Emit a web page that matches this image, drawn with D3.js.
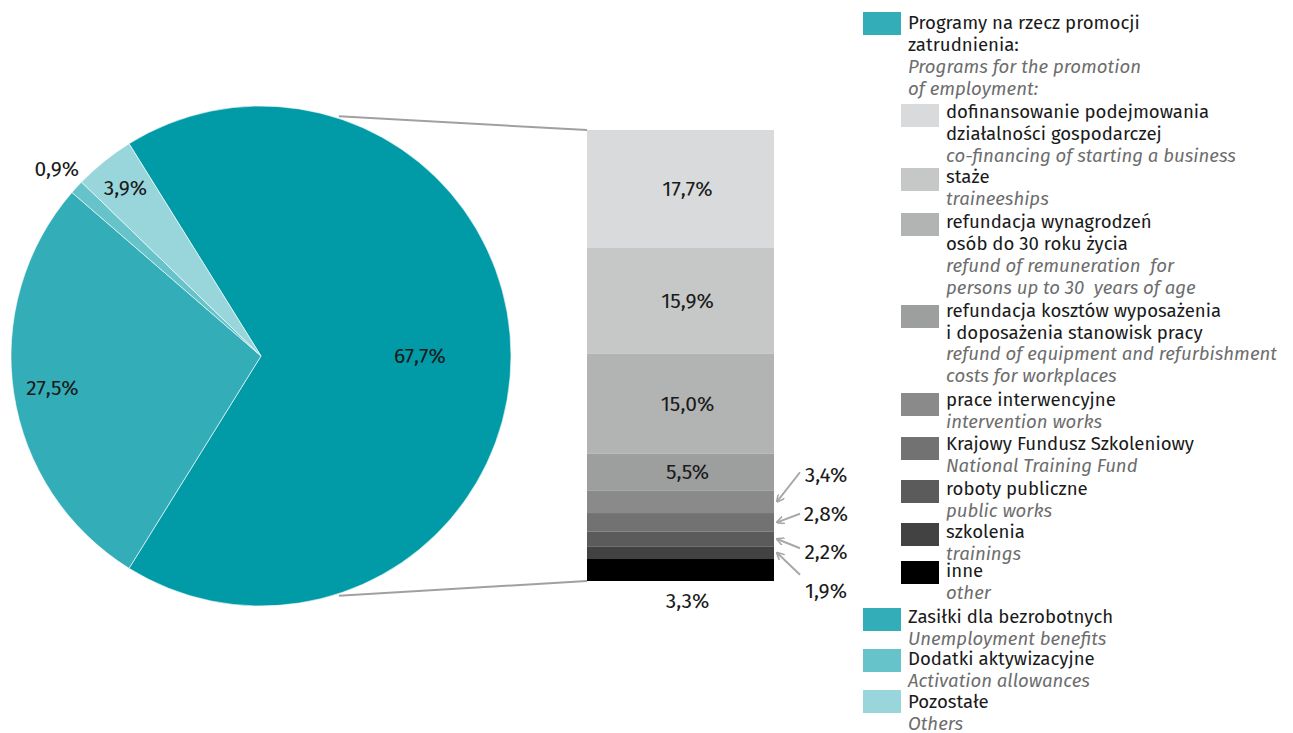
<!DOCTYPE html>
<html><head><meta charset="utf-8">
<script src="https://cdn.jsdelivr.net/npm/d3@7"></script>
<style>
html,body{margin:0;padding:0;background:#fff;}
svg{display:block;font-family:"Fira Sans","Noto Sans","Open Sans",sans-serif;}
</style></head>
<body><svg id="chart" width="1293" height="733"></svg>
<script>
// ---- data ----
const pieLabels = ["67,7%", "27,5%", "0,9%", "3,9%"];
const pieValues = [67.7, 27.5, 0.9, 3.9];
const pieColors = ["#009ba7", "#33adb8", "#66c3ca", "#99d6db"];

const barLabels = ["17,7%", "15,9%", "15,0%", "5,5%", "3,4%", "2,8%", "2,2%", "1,9%", "3,3%"];
const barValues = [17.7, 15.9, 15.0, 5.5, 3.4, 2.8, 2.2, 1.9, 3.3];
const barColors = ["#d9dadb", "#c6c7c7", "#b2b3b3", "#9d9e9e", "#8a8a8a", "#727272", "#5b5b5b", "#424242", "#000000"];

const legendMain = [
  {pl: ["Programy na rzecz promocji", "zatrudnienia:"], en: ["Programs for the promotion", "of employment:"], color: "#33adb8", sub: false},
  {pl: ["dofinansowanie podejmowania", "działalności gospodarczej"], en: ["co-financing of starting a business"], color: barColors[0], sub: true},
  {pl: ["staże"], en: ["traineeships"], color: barColors[1], sub: true},
  {pl: ["refundacja wynagrodzeń", "osób do 30 roku życia"], en: ["refund of remuneration  for", "persons up to 30  years of age"], color: barColors[2], sub: true},
  {pl: ["refundacja kosztów wyposażenia", "i doposażenia stanowisk pracy"], en: ["refund of equipment and refurbishment", "costs for workplaces"], color: barColors[3], sub: true},
  {pl: ["prace interwencyjne"], en: ["intervention works"], color: barColors[4], sub: true},
  {pl: ["Krajowy Fundusz Szkoleniowy"], en: ["National Training Fund"], color: barColors[5], sub: true},
  {pl: ["roboty publiczne"], en: ["public works"], color: barColors[6], sub: true},
  {pl: ["szkolenia"], en: ["trainings"], color: barColors[7], sub: true},
  {pl: ["inne"], en: ["other"], color: barColors[8], sub: true},
  {pl: ["Zasiłki dla bezrobotnych"], en: ["Unemployment benefits"], color: pieColors[1], sub: false},
  {pl: ["Dodatki aktywizacyjne"], en: ["Activation allowances"], color: pieColors[2], sub: false},
  {pl: ["Pozostałe"], en: ["Others"], color: pieColors[3], sub: false}
];

// ---- layout ----
const svg = d3.select("#chart");
const LABEL_FONT = 21;
const LEGEND_FONT = 18.6;
const cx = 261, cy = 356, R = 250;
const total = d3.sum(pieValues);
const start = Math.PI / 2 - (pieValues[0] / total) * Math.PI;

const pie = d3.pie().sort(null).value(d => d).startAngle(start).endAngle(start + 2 * Math.PI);
const arcs = pie(pieValues);
const arc = d3.arc().innerRadius(0).outerRadius(R);

const gPie = svg.append("g").attr("transform", `translate(${cx},${cy})`);
gPie.selectAll("path").data(arcs).join("path")
  .attr("d", arc).attr("fill", (d, i) => pieColors[i])
  .attr("stroke", "#fff").attr("stroke-width", 0.6);

const labelR = [159, 211, 277, 216];
gPie.selectAll("text").data(arcs).join("text")
  .attr("x", (d, i) => d3.arc().innerRadius(labelR[i]).outerRadius(labelR[i]).centroid(d)[0])
  .attr("y", (d, i) => d3.arc().innerRadius(labelR[i]).outerRadius(labelR[i]).centroid(d)[1])
  .attr("text-anchor", "middle").attr("dominant-baseline", "central")
  .attr("font-size", LABEL_FONT).attr("fill", "#1a1a1a")
  .text((d, i) => pieLabels[i]);

// ---- bar ----
const barX0 = 587, barW = 187;
const y = d3.scaleLinear().domain([0, pieValues[0]]).range([130, 581]);
const cum = d3.cumsum(barValues);
const segs = barValues.map((v, i) => ({v, i, y0: i ? cum[i - 1] : 0, y1: cum[i]}));

// connectors
const connA = Math.PI / 10;
const connR = R + 2;
const conn = [
  [[cx + connR * Math.sin(connA), cy - connR * Math.cos(connA)], [barX0, y(0)]],
  [[cx + connR * Math.sin(Math.PI - connA), cy - connR * Math.cos(Math.PI - connA)], [barX0, y(pieValues[0])]]
];
svg.selectAll("line.conn").data(conn).join("line").attr("class", "conn")
  .attr("x1", d => d[0][0]).attr("y1", d => d[0][1])
  .attr("x2", d => d[1][0]).attr("y2", d => d[1][1])
  .attr("stroke", "#a0a0a0").attr("stroke-width", 2);

svg.selectAll("rect.seg").data(segs).join("rect").attr("class", "seg")
  .attr("x", barX0).attr("width", barW)
  .attr("y", d => y(d.y0)).attr("height", d => y(d.y1) - y(d.y0))
  .attr("fill", d => barColors[d.i]);

const labX = barX0 + barW / 2 + 7;
svg.selectAll("text.inl").data(segs.slice(0, 4)).join("text").attr("class", "inl")
  .attr("x", labX).attr("y", d => (y(d.y0) + y(d.y1)) / 2)
  .attr("text-anchor", "middle").attr("dominant-baseline", "central")
  .attr("font-size", LABEL_FONT).attr("fill", "#1a1a1a")
  .text(d => barLabels[d.i]);
svg.append("text")
  .attr("x", labX).attr("y", y(pieValues[0]) + 20)
  .attr("text-anchor", "middle").attr("dominant-baseline", "central")
  .attr("font-size", LABEL_FONT).attr("fill", "#1a1a1a")
  .text(barLabels[8]);

// side labels with arrows
const defs = svg.append("defs");
defs.append("marker").attr("id", "ah").attr("viewBox", "0 0 10 10")
  .attr("refX", 9).attr("refY", 5).attr("markerWidth", 8).attr("markerHeight", 8)
  .attr("markerUnits", "userSpaceOnUse").attr("orient", "auto")
  .append("path").attr("d", "M0,0 L10,5 L0,10").attr("fill", "none")
  .attr("stroke", "#a8a8a8").attr("stroke-width", 2);
const side = segs.slice(4, 8);
const sideX = 826, sideMid = 533, sideStep = 38.5;
const arrowStartDy = [-3, 0, -4, -16];
side.forEach((d, k) => {
  const ly = sideMid + (k - 1.5) * sideStep;
  const ty = (y(d.y0) + y(d.y1)) / 2;
  svg.append("text").attr("x", sideX).attr("y", ly)
    .attr("text-anchor", "middle").attr("dominant-baseline", "central")
    .attr("font-size", LABEL_FONT).attr("fill", "#1a1a1a").text(barLabels[d.i]);
  svg.append("line").attr("x1", 800).attr("y1", ly + arrowStartDy[k])
    .attr("x2", barX0 + barW + 3).attr("y2", ty)
    .attr("stroke", "#a8a8a8").attr("stroke-width", 2).attr("marker-end", "url(#ah)");
});

// ---- legend ----
const lg = svg.append("g");
const lineH = 21.8;
const legendSwatchTops = [12, 104, 168, 213, 305, 393, 437, 480, 523, 561, 608, 649, 690];
const legendBaselines = [29.3, 118.3, 183.3, 228.3, 316.7, 406, 450, 495, 538.3, 576.7, 622.7, 665, 708.3];
legendMain.forEach((item, i) => {
  const sx = item.sub ? 901 : 863;
  const tx = item.sub ? 946 : 908;
  lg.append("rect").attr("x", sx).attr("y", legendSwatchTops[i]).attr("width", 38).attr("height", 23).attr("fill", item.color);
  let ly = legendBaselines[i];
  item.pl.forEach(t => {
    lg.append("text").attr("x", tx).attr("y", ly).attr("font-size", LEGEND_FONT).attr("fill", "#1a1a1a").text(t);
    ly += lineH;
  });
  item.en.forEach(t => {
    lg.append("text").attr("x", tx).attr("y", ly).attr("font-size", LEGEND_FONT).attr("font-style", "italic").attr("fill", "#6d6d6d").style("white-space", "pre").text(t);
    ly += lineH;
  });
});
</script></body></html>
